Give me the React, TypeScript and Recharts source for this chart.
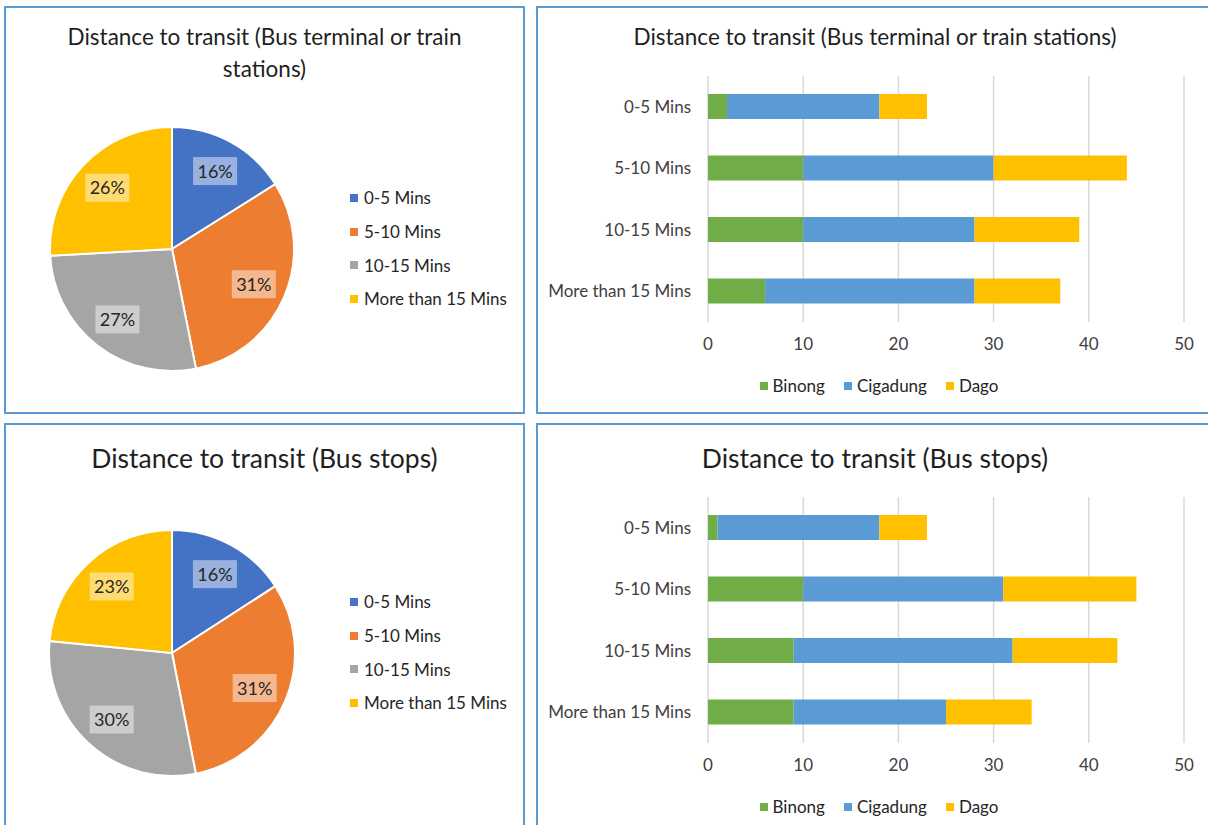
import React from 'react';
import { PieChart, Pie, Cell, BarChart, Bar, XAxis, YAxis, CartesianGrid, Legend } from 'recharts';

const categories = ['0-5 Mins', '5-10 Mins', '10-15 Mins', 'More than 15 Mins'];
const pieColors = ['#4472C4', '#ED7D31', '#A5A5A5', '#FFC000'];

// counts per category (pie)
const pieTerminal = [23, 44, 39, 37];
const pieBusStops = [23, 45, 43, 34];

// stacked bars: Binong, Cigadung, Dago
const terminalBinong = [2, 10, 10, 6];
const terminalCigadung = [16, 20, 18, 22];
const terminalDago = [5, 14, 11, 9];

const stopsBinong = [1, 10, 9, 9];
const stopsCigadung = [17, 21, 23, 16];
const stopsDago = [5, 14, 11, 9];

const seriesNames = ['Binong', 'Cigadung', 'Dago'];
const seriesColors = ['#70AD47', '#5B9BD5', '#FFC000'];
const xTicks = [0, 10, 20, 30, 40, 50];

const FONT = 'Lato, "Open Sans", sans-serif';
const TEXT = '#404040';
const BORDER = '#5B9BD5';
const RAD = Math.PI / 180;

const buildPie = (vals: number[]) => categories.map((c, i) => ({ name: c, value: vals[i] }));
const buildBars = (a: number[], b: number[], c: number[]) =>
  categories.map((cat, i) => ({ cat, Binong: a[i], Cigadung: b[i], Dago: c[i] }));

const PieLabel = (props: any) => {
  const { cx, cy, midAngle, outerRadius, percent } = props;
  const r = outerRadius * 0.73;
  const x = cx + r * Math.cos(-midAngle * RAD);
  const y = cy + r * Math.sin(-midAngle * RAD);
  const txt = `${Math.round(percent * 100)}%`;
  return (
    <g>
      <rect x={x - 22} y={y - 14} width={44} height={28} fill="#FFFFFF" fillOpacity={0.45} />
      <text x={x} y={y} dy="0.36em" textAnchor="middle" fill="#262626" fontSize={18} fontFamily={FONT}>
        {txt}
      </text>
    </g>
  );
};

const ordered = (payload: any[]) =>
  categories.map((c) => (payload || []).find((p: any) => p.value === c)).filter(Boolean);

const PieLegend = (props: any) => {
  const items = ordered(props.payload);
  return (
    <div style={{ fontFamily: FONT, fontSize: 17, color: '#262626' }}>
      {items.map((p: any, i: number) => (
        <div key={i} style={{ display: 'flex', alignItems: 'center', height: 33.7 }}>
          <span style={{ width: 8, height: 8, background: p.color, display: 'inline-block', marginRight: 6 }} />
          <span>{p.value}</span>
        </div>
      ))}
    </div>
  );
};

const BarLegend = (props: any) => {
  const items = seriesNames.map((s) => (props.payload || []).find((p: any) => p.value === s)).filter(Boolean);
  return (
    <div
      style={{
        height: 55,
        display: 'flex',
        justifyContent: 'center',
        alignItems: 'center',
        fontFamily: FONT,
        fontSize: 17,
        color: '#262626',
        paddingLeft: 38,
        boxSizing: 'border-box',
      }}
    >
      {items.map((p: any, i: number) => (
        <div key={i} style={{ display: 'flex', alignItems: 'center', marginRight: i < 2 ? 19 : 0 }}>
          <span style={{ width: 8, height: 8, background: p.color, display: 'inline-block', marginRight: 5 }} />
          <span>{p.value}</span>
        </div>
      ))}
    </div>
  );
};

const PiePanel = ({ top, vals, cy, r }: { top: number; vals: number[]; cy: number; r: number }) => (
  <div style={{ position: 'absolute', left: 4, top, width: 521, height: 408 }}>
    <PieChart width={521} height={408} margin={{ top: 0, right: 0, bottom: 0, left: 0 }}>
      <Pie
        data={buildPie(vals)}
        dataKey="value"
        nameKey="name"
        cx={168}
        cy={cy}
        outerRadius={r}
        startAngle={90}
        endAngle={-270}
        stroke="#FFFFFF"
        strokeWidth={2}
        label={PieLabel}
        labelLine={false}
        isAnimationActive={false}
      >
        {vals.map((_, i) => (
          <Cell key={i} fill={pieColors[i]} />
        ))}
      </Pie>
      <Legend
        layout="vertical"
        content={PieLegend}
        wrapperStyle={{ position: 'absolute', left: 346, top: cy - 68, width: 175 }}
      />
    </PieChart>
  </div>
);

const BarPanel = ({ top, data }: { top: number; data: any[] }) => (
  <div style={{ position: 'absolute', left: 536, top, width: 672, height: 408 }}>
    <BarChart
      width={672}
      height={407}
      data={data}
      layout="vertical"
      margin={{ top: 70, right: 24, bottom: 0, left: 0 }}
      barSize={25}
    >
      <CartesianGrid horizontal={false} vertical={true} stroke="#D9D9D9" strokeWidth={1.5} />
      <XAxis
        type="number"
        domain={[0, 50]}
        ticks={xTicks}
        axisLine={false}
        tickLine={false}
        tickSize={0}
        tickMargin={16}
        height={36}
        tick={{ fill: TEXT, fontSize: 17, fontFamily: FONT }}
      />
      <YAxis
        type="category"
        dataKey="cat"
        width={172}
        axisLine={false}
        tickLine={false}
        tickSize={0}
        tickMargin={17}
        tick={{ fill: TEXT, fontSize: 17, fontFamily: FONT }}
      />
      <Legend verticalAlign="bottom" content={BarLegend} />
      {seriesNames.map((s, i) => (
        <Bar key={s} dataKey={s} stackId="a" fill={seriesColors[i]} isAnimationActive={false} />
      ))}
    </BarChart>
  </div>
);

const Title = ({ left, width, top, size, lines }: { left: number; width: number; top: number; size: number; lines: string[] }) => (
  <div
    style={{
      position: 'absolute',
      left,
      width,
      top,
      textAlign: 'center',
      fontFamily: FONT,
      fontSize: size,
      lineHeight: '32px',
      color: '#1F1F1F',
      whiteSpace: 'nowrap',
    }}
  >
    {lines.map((l, i) => (
      <div key={i}>{l}</div>
    ))}
  </div>
);

const Box = ({ left, top, width, height }: { left: number; top: number; width: number; height: number }) => (
  <div
    style={{
      position: 'absolute',
      left,
      top,
      width,
      height,
      border: `2px solid ${BORDER}`,
      boxSizing: 'border-box',
    }}
  />
);

export default function App() {
  return (
    <div style={{ position: 'absolute', left: 0, top: 0, width: 1208, height: 825, overflow: 'hidden', background: '#FFFFFF' }}>
      <Box left={4} top={6} width={521} height={408} />
      <Box left={536} top={6} width={700} height={408} />
      <Box left={4} top={423} width={521} height={420} />
      <Box left={536} top={423} width={700} height={420} />

      <PiePanel top={6} vals={pieTerminal} cy={243} r={122} />
      <PiePanel top={423} vals={pieBusStops} cy={230} r={123} />
      <BarPanel top={6} data={buildBars(terminalBinong, terminalCigadung, terminalDago)} />
      <BarPanel top={427} data={buildBars(stopsBinong, stopsCigadung, stopsDago)} />

      <Title left={4} width={521} top={21} size={22.5} lines={['Distance to transit (Bus terminal or train', 'stations)']} />
      <Title left={475} width={800} top={21} size={22.5} lines={['Distance to transit (Bus terminal or train stations)']} />
      <Title left={4} width={521} top={442} size={26.5} lines={['Distance to transit (Bus stops)']} />
      <Title left={475} width={800} top={442} size={26.5} lines={['Distance to transit (Bus stops)']} />
    </div>
  );
}
